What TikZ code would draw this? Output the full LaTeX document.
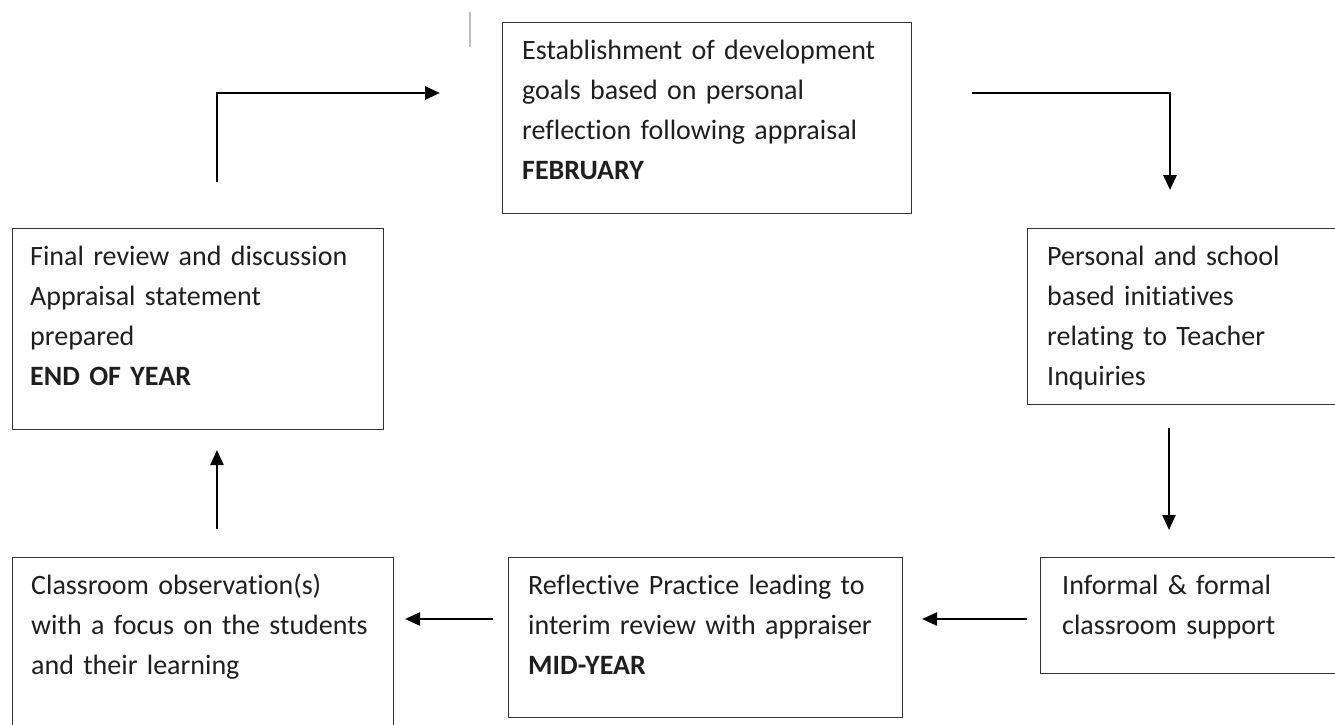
\documentclass[tikz,border=0pt]{standalone}
\usepackage{fontspec}
\setmainfont{Carlito}[Ligatures=NoCommon]
\usepackage{tikz}
\usetikzlibrary{arrows.meta}

\tikzset{
  stepbox/.style={draw=black!80, line width=1.3pt, anchor=north west, inner sep=0pt},
  steptext/.style={anchor=base west, align=left, text width=380pt, inner sep=0pt,
    font=\fontsize{28}{40}\selectfont, text=black!88},
  flow/.style={line width=2.3pt, -{Triangle[length=15pt,width=13pt]}}
}

\begin{document}
\begin{tikzpicture}[x=1pt,y=-1pt]

\clip (0,0) rectangle (1335,724);
\fill[white] (0,0) rectangle (1335,724);

\node[stepbox, minimum width=409pt, minimum height=191pt] (goals) at (502,22) {};
\node[steptext] (goalst) at (522,59) {Establishment of development\\goals based on personal\\reflection following appraisal\\\textbf{FEBRUARY}};

\node[stepbox, minimum width=313pt, minimum height=176pt] (init) at (1027,228) {};
\node[steptext] (initt) at (1047,265) {Personal and school\\based initiatives\\relating to Teacher\\Inquiries};

\node[stepbox, minimum width=300pt, minimum height=116pt] (support) at (1040,557) {};
\node[steptext] (supportt) at (1062,594) {Informal \& formal\\classroom support};

\node[stepbox, minimum width=394pt, minimum height=160pt] (mid) at (508,557) {};
\node[steptext] (midt) at (528,594) {Reflective Practice leading to\\interim review with appraiser\\\textbf{MID-YEAR}};

\node[stepbox, minimum width=381pt, minimum height=173pt] (obs) at (12,557) {};
\node[steptext] (obst) at (31,594) {Classroom observation(s)\\with a focus on the students\\and their learning};

\node[stepbox, minimum width=371pt, minimum height=201pt] (final) at (12,228) {};
\node[steptext] (finalt) at (30,265) {Final review and discussion\\Appraisal statement\\prepared\\\textbf{END OF YEAR}};

\coordinate (a1s) at (217,182);
\coordinate (a1e) at (440,93);
\coordinate (a2s) at (972,93);
\coordinate (a2e) at (1170,190);
\coordinate (a3s) at (1169,428);
\coordinate (a3e) at (1169,530);
\coordinate (a4s) at (1027,619);
\coordinate (a4e) at (922,619);
\coordinate (a5s) at (493,619);
\coordinate (a5e) at (405,619);
\coordinate (a6s) at (217,529);
\coordinate (a6e) at (217,450);

\draw[flow, line width=2.8pt] (a1s) |- (a1e);
\draw[flow, line width=2.8pt] (a2s) -| (a2e);
\draw[flow] (a3s) -- (a3e);
\draw[flow] (a4s) -- (a4e);
\draw[flow] (a5s) -- (a5e);
\draw[flow] (a6s) -- (a6e);

\draw[black!25, line width=1.5pt] (470,12) -- (470,47);

\end{tikzpicture}
\end{document}
